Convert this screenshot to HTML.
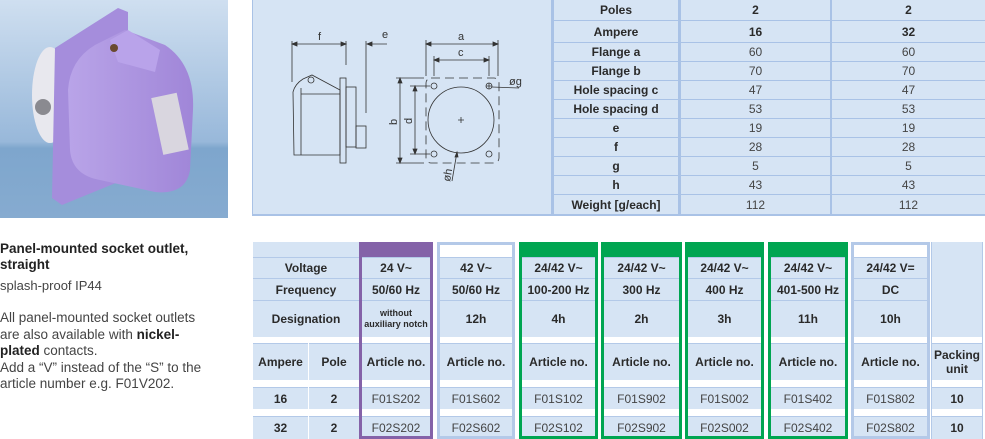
<!DOCTYPE html>
<html><head><meta charset="utf-8"><style>
*{margin:0;padding:0;box-sizing:border-box}
body{width:985px;height:439px;background:#fff;position:relative;overflow:hidden;font-family:"Liberation Sans",Arial,sans-serif;color:#2a2a2a}
.a{position:absolute}
.c{position:absolute;left:0;right:0;background:#d6e4f4;border-top:1px solid #b3c9e8;display:flex;align-items:center;justify-content:center;text-align:center;font-size:12px;font-weight:bold;line-height:14px}
.n{font-weight:normal;color:#444}
.col{position:absolute;top:242px;height:197px}
.ov{position:absolute;left:0;top:0;right:0;bottom:0;border:3px solid}
.sr{position:absolute;left:0;right:0;border-top:1px solid #a9c2e6;display:flex;align-items:center;font-size:12px;font-weight:bold;color:#2a2a2a}
.sr div{position:absolute;text-align:center}
</style></head><body>

<!-- photo -->
<svg class="a" style="left:0;top:0" width="228" height="218">
<defs><linearGradient id="bg" x1="0" y1="0" x2="0" y2="1"><stop offset="0" stop-color="#cfdff0"/><stop offset="0.65" stop-color="#98b8da"/><stop offset="0.68" stop-color="#7ea6cd"/><stop offset="1" stop-color="#86abd0"/></linearGradient>
<linearGradient id="pu" x1="0" y1="0" x2="1" y2="0"><stop offset="0" stop-color="#b9a4e8"/><stop offset="1" stop-color="#a086d8"/></linearGradient></defs>
<rect width="228" height="218" fill="url(#bg)"/>
<ellipse cx="50" cy="95" rx="18" ry="48" fill="#e8e8ee"/>
<circle cx="43" cy="107" r="8" fill="#8a8a90"/>
<polygon points="55,48 118,8 128,12 128,178 62,205 52,198" fill="#a58ddc"/>
<path d="M68,90 Q70,60 95,45 L125,30 L165,45 Q195,65 193,110 L190,170 Q186,195 155,192 L100,180 Q72,175 70,150 Z" fill="url(#pu)"/>
<path d="M110,40 L128,30 L160,50 L155,72 L118,62 Z" fill="#b9a3ea"/>
<circle cx="114" cy="48" r="4" fill="#6a4a30"/>
<rect x="157" y="95" width="26" height="58" fill="#d9d6df" transform="rotate(-12 169 124)"/>
</svg>

<!-- left text -->
<div class="a" style="left:0;top:241px;width:250px;font-size:13.5px;font-weight:bold;line-height:16px;color:#222">Panel-mounted socket outlet,<br>straight</div>
<div class="a" style="left:0;top:278px;font-size:13px;color:#444">splash-proof IP44</div>
<div class="a" style="left:0;top:310px;width:250px;font-size:13.5px;line-height:16.5px;color:#444">All panel-mounted socket outlets<br>are also available with <b style="color:#222">nickel-<br>plated</b> contacts.<br>Add a “V” instead of the “S” to the<br>article number e.g. F01V202.</div>

<!-- drawing panel -->
<div class="a" style="left:252px;top:0;width:299px;height:216px;background:#d6e4f4;border-left:1px solid #a9c2e6;border-bottom:2px solid #a9c2e6"></div>
<svg class="a" style="left:252px;top:0" width="299" height="216" font-family="Liberation Sans" font-size="11" fill="none" stroke="#333" stroke-width="0.8">
<g transform="translate(-252,0)">
<line x1="292" y1="41" x2="292" y2="82"/><line x1="346" y1="41" x2="346" y2="65"/>
<line x1="292" y1="44" x2="346" y2="44"/><path d="M292,44 l5,-2 v4z M346,44 l-5,-2 v4z" fill="#333"/>
<text x="318" y="40" fill="#333" stroke="none">f</text>
<line x1="366" y1="41" x2="366" y2="113"/><line x1="368" y1="44" x2="387" y2="44"/><path d="M367,44 l5,-2 v4z" fill="#333"/>
<text x="382" y="38" fill="#333" stroke="none">e</text>
<path d="M294,155 L293,92 Q295,84 303,79 L312,75 L340,90 L340,155 Z"/>
<line x1="301" y1="94" x2="340" y2="94"/><line x1="301" y1="88" x2="301" y2="155"/>
<circle cx="311" cy="80" r="3"/>
<rect x="340" y="78" width="6" height="85"/><rect x="346" y="87" width="10" height="60"/><rect x="356" y="126" width="10" height="22"/>
<rect x="426" y="78" width="73" height="85" rx="5" stroke-dasharray="9,5"/>
<circle cx="461" cy="120" r="33"/>
<path d="M458,120 h6 M461,117 v6"/>
<circle cx="434" cy="86" r="3"/><circle cx="489" cy="86" r="3"/><circle cx="434" cy="154" r="3"/><circle cx="489" cy="154" r="3"/>
<path d="M486,86 h6 M489,83 v6"/>
<line x1="426" y1="40" x2="426" y2="76"/><line x1="498" y1="40" x2="498" y2="76"/>
<line x1="426" y1="44" x2="498" y2="44"/><path d="M426,44 l5,-2 v4z M498,44 l-5,-2 v4z" fill="#333"/>
<text x="458" y="40" fill="#333" stroke="none">a</text>
<line x1="434" y1="56" x2="434" y2="76"/><line x1="489" y1="56" x2="489" y2="76"/>
<line x1="434" y1="60" x2="489" y2="60"/><path d="M434,60 l5,-2 v4z M489,60 l-5,-2 v4z" fill="#333"/>
<text x="458" y="56" fill="#333" stroke="none">c</text>
<line x1="396" y1="78" x2="424" y2="78"/><line x1="396" y1="163" x2="424" y2="163"/>
<line x1="400" y1="78" x2="400" y2="163"/><path d="M400,78 l-2,5 h4z M400,163 l-2,-5 h4z" fill="#333"/>
<text x="0" y="0" fill="#333" stroke="none" transform="translate(397,125) rotate(-90)">b</text>
<line x1="410" y1="86" x2="430" y2="86"/><line x1="410" y1="154" x2="430" y2="154"/>
<line x1="415" y1="86" x2="415" y2="154"/><path d="M415,86 l-2,5 h4z M415,154 l-2,-5 h4z" fill="#333"/>
<text x="0" y="0" fill="#333" stroke="none" transform="translate(412,124) rotate(-90)">d</text>
<line x1="492" y1="87" x2="519" y2="88"/>
<text x="509" y="85" fill="#333" stroke="none">øg</text>
<line x1="457" y1="152" x2="452" y2="181"/><path d="M457,152 l-2,5 h3z" fill="#333"/>
<text x="0" y="0" fill="#333" stroke="none" transform="translate(450,182) rotate(-80)">øh</text>
</g></svg>

<!-- spec table -->
<div class="a" style="left:551px;top:0;width:3px;height:216px;background:#a9c2e6"></div>
<div class="a" style="left:554px;top:0;width:431px;height:216px;background:#d6e4f4;border-bottom:2px solid #a9c2e6"></div>
<div class="a" style="left:678px;top:0;width:3px;height:216px;background:#a9c2e6"></div>
<div class="a" style="left:830px;top:0;width:2px;height:216px;background:#a9c2e6"></div>
<div class="a" style="left:554px;top:0;width:431px;height:216px">
<div class="sr" style="top:0;height:20px;border-top:none"><div style="left:0;width:124px">Poles</div><div style="left:127px;width:149px">2</div><div style="left:278px;width:153px">2</div></div>
<div class="sr" style="top:20px;height:22px"><div style="left:0;width:124px">Ampere</div><div style="left:127px;width:149px">16</div><div style="left:278px;width:153px">32</div></div>
<div class="sr" style="top:42px;height:19px"><div style="left:0;width:124px">Flange a</div><div class="n" style="left:127px;width:149px">60</div><div class="n" style="left:278px;width:153px">60</div></div>
<div class="sr" style="top:61px;height:19px"><div style="left:0;width:124px">Flange b</div><div class="n" style="left:127px;width:149px">70</div><div class="n" style="left:278px;width:153px">70</div></div>
<div class="sr" style="top:80px;height:19px"><div style="left:0;width:124px">Hole spacing c</div><div class="n" style="left:127px;width:149px">47</div><div class="n" style="left:278px;width:153px">47</div></div>
<div class="sr" style="top:99px;height:19px"><div style="left:0;width:124px">Hole spacing d</div><div class="n" style="left:127px;width:149px">53</div><div class="n" style="left:278px;width:153px">53</div></div>
<div class="sr" style="top:118px;height:19px"><div style="left:0;width:124px">e</div><div class="n" style="left:127px;width:149px">19</div><div class="n" style="left:278px;width:153px">19</div></div>
<div class="sr" style="top:137px;height:19px"><div style="left:0;width:124px">f</div><div class="n" style="left:127px;width:149px">28</div><div class="n" style="left:278px;width:153px">28</div></div>
<div class="sr" style="top:156px;height:19px"><div style="left:0;width:124px">g</div><div class="n" style="left:127px;width:149px">5</div><div class="n" style="left:278px;width:153px">5</div></div>
<div class="sr" style="top:175px;height:19px"><div style="left:0;width:124px">h</div><div class="n" style="left:127px;width:149px">43</div><div class="n" style="left:278px;width:153px">43</div></div>
<div class="sr" style="top:194px;height:20px"><div style="left:0;width:124px">Weight [g/each]</div><div class="n" style="left:127px;width:149px">112</div><div class="n" style="left:278px;width:153px">112</div></div>
</div>

<!-- bottom table: label columns -->
<div class="col" style="left:253px;width:106px">
<div class="c" style="top:0;height:15px;border-top:none"></div>
<div class="c" style="top:15px;height:21px">Voltage</div>
<div class="c" style="top:36px;height:22px">Frequency</div>
<div class="c" style="top:58px;height:37px">Designation</div>
<div class="c" style="top:101px;height:37px;right:51px">Ampere</div>
<div class="c" style="top:101px;height:37px;left:56px">Pole</div>
<div class="c" style="top:145px;height:22px;right:51px">16</div>
<div class="c" style="top:145px;height:22px;left:56px">2</div>
<div class="c" style="top:174px;height:23px;right:51px">32</div>
<div class="c" style="top:174px;height:23px;left:56px">2</div>
</div>

<div class="col" style="left:359px;width:74px">
<div class="c" style="top:0;height:15px;background:#8462a8;border:none"></div>
<div class="c" style="top:15px;height:21px">24 V~</div>
<div class="c" style="top:36px;height:22px">50/60 Hz</div>
<div class="c" style="top:58px;height:37px;font-size:9px;line-height:11px">without<br>auxiliary notch</div>
<div class="c" style="top:101px;height:37px">Article no.</div>
<div class="c n" style="top:145px;height:22px">F01S202</div>
<div class="c n" style="top:174px;height:23px">F02S202</div>
<div class="ov" style="border-color:#8462a8"></div>
</div>

<div class="col" style="left:437px;width:78px">
<div class="c" style="top:0;height:15px;background:#fff;border:none"></div>
<div class="c" style="top:15px;height:21px">42 V~</div>
<div class="c" style="top:36px;height:22px">50/60 Hz</div>
<div class="c" style="top:58px;height:37px">12h</div>
<div class="c" style="top:101px;height:37px">Article no.</div>
<div class="c n" style="top:145px;height:22px">F01S602</div>
<div class="c n" style="top:174px;height:23px">F02S602</div>
<div class="ov" style="border-color:#b4c9e8"></div>
</div>

<div class="col" style="left:519px;width:79px">
<div class="c" style="top:0;height:15px;background:#00a551;border:none"></div>
<div class="c" style="top:15px;height:21px">24/42 V~</div>
<div class="c" style="top:36px;height:22px">100-200 Hz</div>
<div class="c" style="top:58px;height:37px">4h</div>
<div class="c" style="top:101px;height:37px">Article no.</div>
<div class="c n" style="top:145px;height:22px">F01S102</div>
<div class="c n" style="top:174px;height:23px">F02S102</div>
<div class="ov" style="border-color:#00a551"></div>
</div>

<div class="col" style="left:601px;width:81px">
<div class="c" style="top:0;height:15px;background:#00a551;border:none"></div>
<div class="c" style="top:15px;height:21px">24/42 V~</div>
<div class="c" style="top:36px;height:22px">300 Hz</div>
<div class="c" style="top:58px;height:37px">2h</div>
<div class="c" style="top:101px;height:37px">Article no.</div>
<div class="c n" style="top:145px;height:22px">F01S902</div>
<div class="c n" style="top:174px;height:23px">F02S902</div>
<div class="ov" style="border-color:#00a551"></div>
</div>

<div class="col" style="left:685px;width:79px">
<div class="c" style="top:0;height:15px;background:#00a551;border:none"></div>
<div class="c" style="top:15px;height:21px">24/42 V~</div>
<div class="c" style="top:36px;height:22px">400 Hz</div>
<div class="c" style="top:58px;height:37px">3h</div>
<div class="c" style="top:101px;height:37px">Article no.</div>
<div class="c n" style="top:145px;height:22px">F01S002</div>
<div class="c n" style="top:174px;height:23px">F02S002</div>
<div class="ov" style="border-color:#00a551"></div>
</div>

<div class="col" style="left:768px;width:80px">
<div class="c" style="top:0;height:15px;background:#00a551;border:none"></div>
<div class="c" style="top:15px;height:21px">24/42 V~</div>
<div class="c" style="top:36px;height:22px">401-500 Hz</div>
<div class="c" style="top:58px;height:37px">11h</div>
<div class="c" style="top:101px;height:37px">Article no.</div>
<div class="c n" style="top:145px;height:22px">F01S402</div>
<div class="c n" style="top:174px;height:23px">F02S402</div>
<div class="ov" style="border-color:#00a551"></div>
</div>

<div class="col" style="left:851px;width:79px">
<div class="c" style="top:0;height:15px;background:#fff;border:none"></div>
<div class="c" style="top:15px;height:21px">24/42 V=</div>
<div class="c" style="top:36px;height:22px">DC</div>
<div class="c" style="top:58px;height:37px">10h</div>
<div class="c" style="top:101px;height:37px">Article no.</div>
<div class="c n" style="top:145px;height:22px">F01S802</div>
<div class="c n" style="top:174px;height:23px">F02S802</div>
<div class="ov" style="border-color:#b4c9e8"></div>
</div>

<div class="col" style="left:931px;width:52px;border-left:1px solid #b3c9e8;border-right:1px solid #b3c9e8">
<div class="c" style="top:0;height:95px;border:none"></div>
<div class="c" style="top:101px;height:37px">Packing<br>unit</div>
<div class="c" style="top:145px;height:22px">10</div>
<div class="c" style="top:174px;height:23px">10</div>
</div>

</body></html>
